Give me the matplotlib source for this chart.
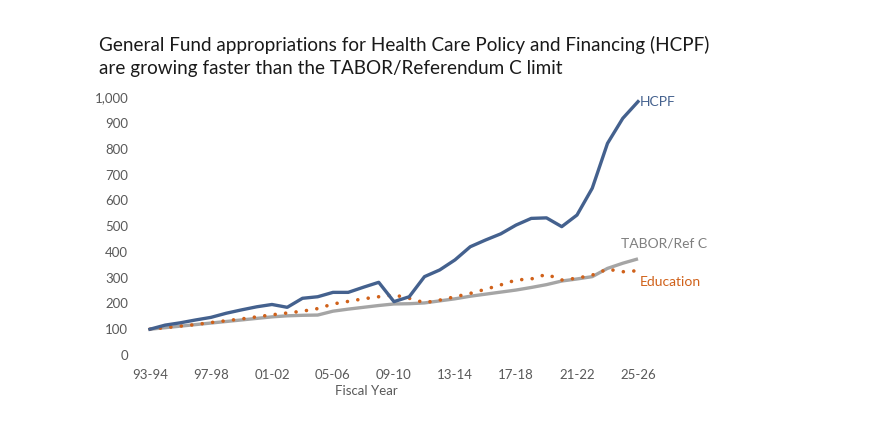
import numpy as np
import matplotlib.pyplot as plt

plt.rcParams['font.family'] = ['Lato', 'DejaVu Sans']

# fiscal years 93-94 .. 25-26
years = ['%02d-%02d' % (y % 100, (y + 1) % 100) for y in range(1993, 2026)]

# index, 93-94 = 100
hcpf = [100, 116, 125, 136, 146, 162, 175, 187, 196, 185,
        220, 226, 243, 243, 263, 282, 207, 226, 304, 330,
        369, 420, 446, 470, 504, 530, 532, 498, 543, 647,
        821, 918, 983]
tabor = [100, 106, 112, 118, 124, 130, 136, 142, 148, 152,
         154, 155, 170, 178, 185, 192, 198, 199, 202, 210,
         218, 228, 236, 244, 252, 262, 273, 287, 295, 304,
         336, 356, 373]
education = [100, 106, 112, 118, 126, 133, 140, 148, 156, 163,
             170, 180, 198, 208, 218, 226, 233, 220, 203, 213,
             226, 239, 255, 272, 291, 295, 313, 291, 298, 310,
             333, 323, 327]

x = np.arange(len(years))

fig = plt.figure(figsize=(8.8, 4.25), dpi=100)
ax = fig.add_axes([0.160, 0.1647, 0.5754, 0.6065])

blue = '#44618E'
grey = '#A5A5A5'
orange = '#D0611A'

ax.plot(x, tabor, color=grey, lw=2.4, solid_capstyle='butt')
ax.plot(x, education, color=orange, lw=2.6, linestyle=(0, (0.01, 2.9)),
        dash_capstyle='round')
ax.plot(x, hcpf, color=blue, lw=2.4, solid_joinstyle='round')

ax.set_xlim(-0.6, 32.6)
ax.set_ylim(0, 1000)
ax.set_xticks(x[::4])
ax.set_xticklabels(years[::4])
ax.set_yticks(np.arange(0, 1001, 100))
ax.set_yticklabels(['{:,}'.format(v) for v in range(0, 1001, 100)])
ax.tick_params(length=0, labelsize=9.5, colors='#595959')
ax.tick_params(axis='x', pad=10)
ax.tick_params(axis='y', pad=9)
for s in ax.spines.values():
    s.set_visible(False)

ax.set_xlabel('Fiscal Year', fontsize=9.5, color='#595959')
ax.xaxis.set_label_coords(0.445, -0.115)

ax.text(32.1, hcpf[-1], 'HCPF', color=blue, fontsize=10, va='center')
ax.text(30.9, 432, 'TABOR/Ref C', color='#7F7F7F', fontsize=10, va='center')
ax.text(32.1, 283, 'Education', color=orange, fontsize=10, va='center')

fig.text(0.1125, 0.867, 'General Fund appropriations for Health Care Policy and Financing (HCPF)\n'
         'are growing faster than the TABOR/Referendum C limit',
         fontsize=13.6, color='#1a1a1a', va='center', ha='left', linespacing=1.45)

fig.savefig('out.png', dpi=100)
